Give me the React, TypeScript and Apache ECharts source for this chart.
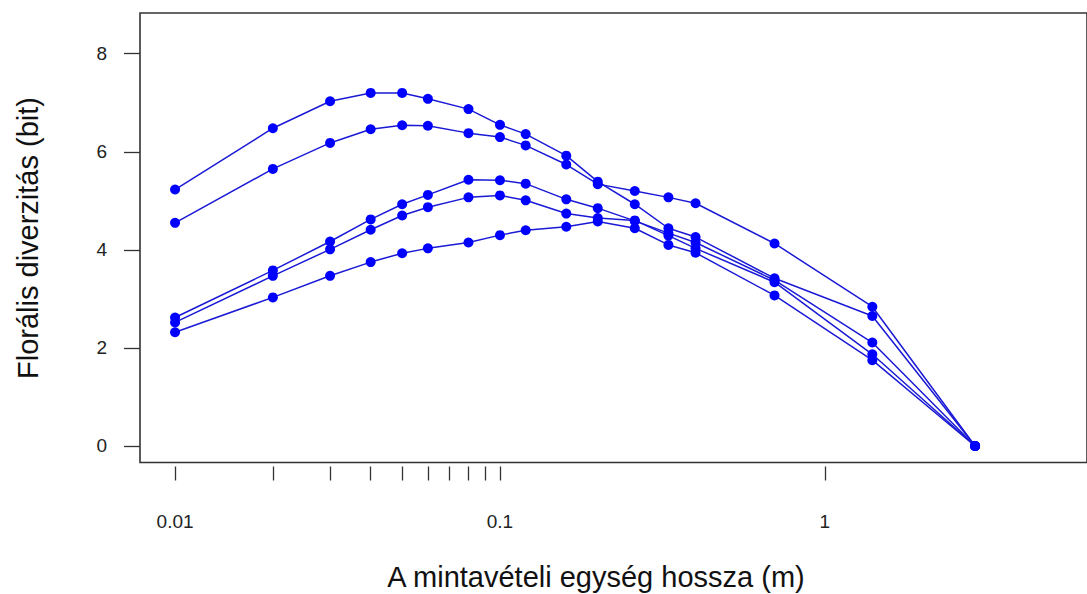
import React, { useEffect, useRef } from "react";
import * as echarts from "echarts";

// Sampling unit length (m)
const lengths = [0.01, 0.02, 0.03, 0.04, 0.05, 0.06, 0.08, 0.1, 0.12, 0.16, 0.2, 0.26, 0.33, 0.4, 0.7, 1.4, 2.9];

// Floral diversity (bit), five transects
const seriesA = [5.23, 6.48, 7.03, 7.2, 7.2, 7.08, 6.87, 6.55, 6.36, 5.92, 5.39, 4.93, 4.44, 4.26, 3.42, 2.65, 0];
const seriesB = [4.55, 5.65, 6.18, 6.46, 6.54, 6.53, 6.38, 6.3, 6.13, 5.74, 5.34, 5.2, 5.07, 4.95, 4.13, 2.84, 0];
const seriesC = [2.62, 3.58, 4.17, 4.62, 4.93, 5.12, 5.43, 5.42, 5.35, 5.03, 4.85, 4.59, 4.34, 4.15, 3.38, 2.11, 0];
const seriesD = [2.52, 3.47, 4.01, 4.41, 4.7, 4.87, 5.07, 5.11, 5.01, 4.74, 4.65, 4.6, 4.29, 4.03, 3.34, 1.87, 0];
const seriesE = [2.32, 3.03, 3.47, 3.75, 3.93, 4.03, 4.15, 4.3, 4.4, 4.47, 4.58, 4.44, 4.1, 3.94, 3.07, 1.75, 0];

const xTickValues = [0.01, 0.02, 0.03, 0.04, 0.05, 0.06, 0.07, 0.08, 0.09, 0.1, 1];
const xLabelValues = [0.01, 0.1, 1];
const yTickValues = [0, 2, 4, 6, 8];

const xTitle = "A mintavételi egység hossza (m)";
const yTitle = "Florális diverzitás (bit)";

const FONT = "'Liberation Sans', Arial, sans-serif";

export default function App() {
  const ref = useRef<HTMLDivElement>(null);
  useEffect(() => {
    if (!ref.current) return;
    const chart = echarts.init(ref.current, undefined, { renderer: "svg" });
    const all = [seriesA, seriesB, seriesC, seriesD, seriesE];
    chart.setOption({
      animation: false,
      backgroundColor: "#ffffff",
      grid: {
        left: 140,
        top: 13,
        width: 961,
        height: 449.5,
        show: true,
        borderColor: "#333333",
        borderWidth: 1.6,
        backgroundColor: "transparent",
      },
      xAxis: {
        type: "log",
        logBase: 10,
        min: 0.0078,
        max: 6.41,
        offset: 4,
        axisLine: { show: false, onZero: false },
        splitLine: { show: false },
        minorTick: { show: false },
        axisTick: {
          show: true,
          customValues: xTickValues,
          length: 14,
          lineStyle: { color: "#333333", width: 1.3 },
        },
        axisLabel: {
          customValues: xLabelValues,
          margin: 45,
          fontSize: 19,
          color: "#222222",
          fontFamily: FONT,
          formatter: (v: number) => String(+Number(v).toPrecision(3)),
        },
      },
      yAxis: {
        type: "value",
        min: -0.337,
        max: 8.83,
        axisLine: { show: false, onZero: false },
        splitLine: { show: false },
        axisTick: {
          show: true,
          customValues: yTickValues,
          length: 16,
          lineStyle: { color: "#333333", width: 1.3 },
        },
        axisLabel: {
          customValues: yTickValues,
          margin: 33,
          fontSize: 19,
          color: "#222222",
          fontFamily: FONT,
        },
      },
      graphic: [
        {
          type: "text",
          x: 596,
          y: 577,
          style: {
            text: xTitle,
            fontSize: 29,
            fill: "#111111",
            fontFamily: FONT,
            align: "center",
            verticalAlign: "middle",
          },
        },
        {
          type: "text",
          x: 28,
          y: 238,
          rotation: Math.PI / 2,
          style: {
            text: yTitle,
            fontSize: 29,
            fill: "#111111",
            fontFamily: FONT,
            align: "center",
            verticalAlign: "middle",
          },
        },
      ],
      series: all.map((s, k) => ({
        type: "line",
        name: "S" + (k + 1),
        data: lengths.map((x, i) => [x, s[i]]),
        symbol: "circle",
        symbolSize: 10,
        itemStyle: { color: "#0000ff" },
        lineStyle: { color: "#1a1ad6", width: 1.5 },
        z: 3,
      })),
    });
    return () => chart.dispose();
  }, []);
  return (
    <div
      ref={ref}
      style={{ position: "fixed", left: 0, top: 0, width: 1087, height: 594, background: "#fff" }}
    />
  );
}
